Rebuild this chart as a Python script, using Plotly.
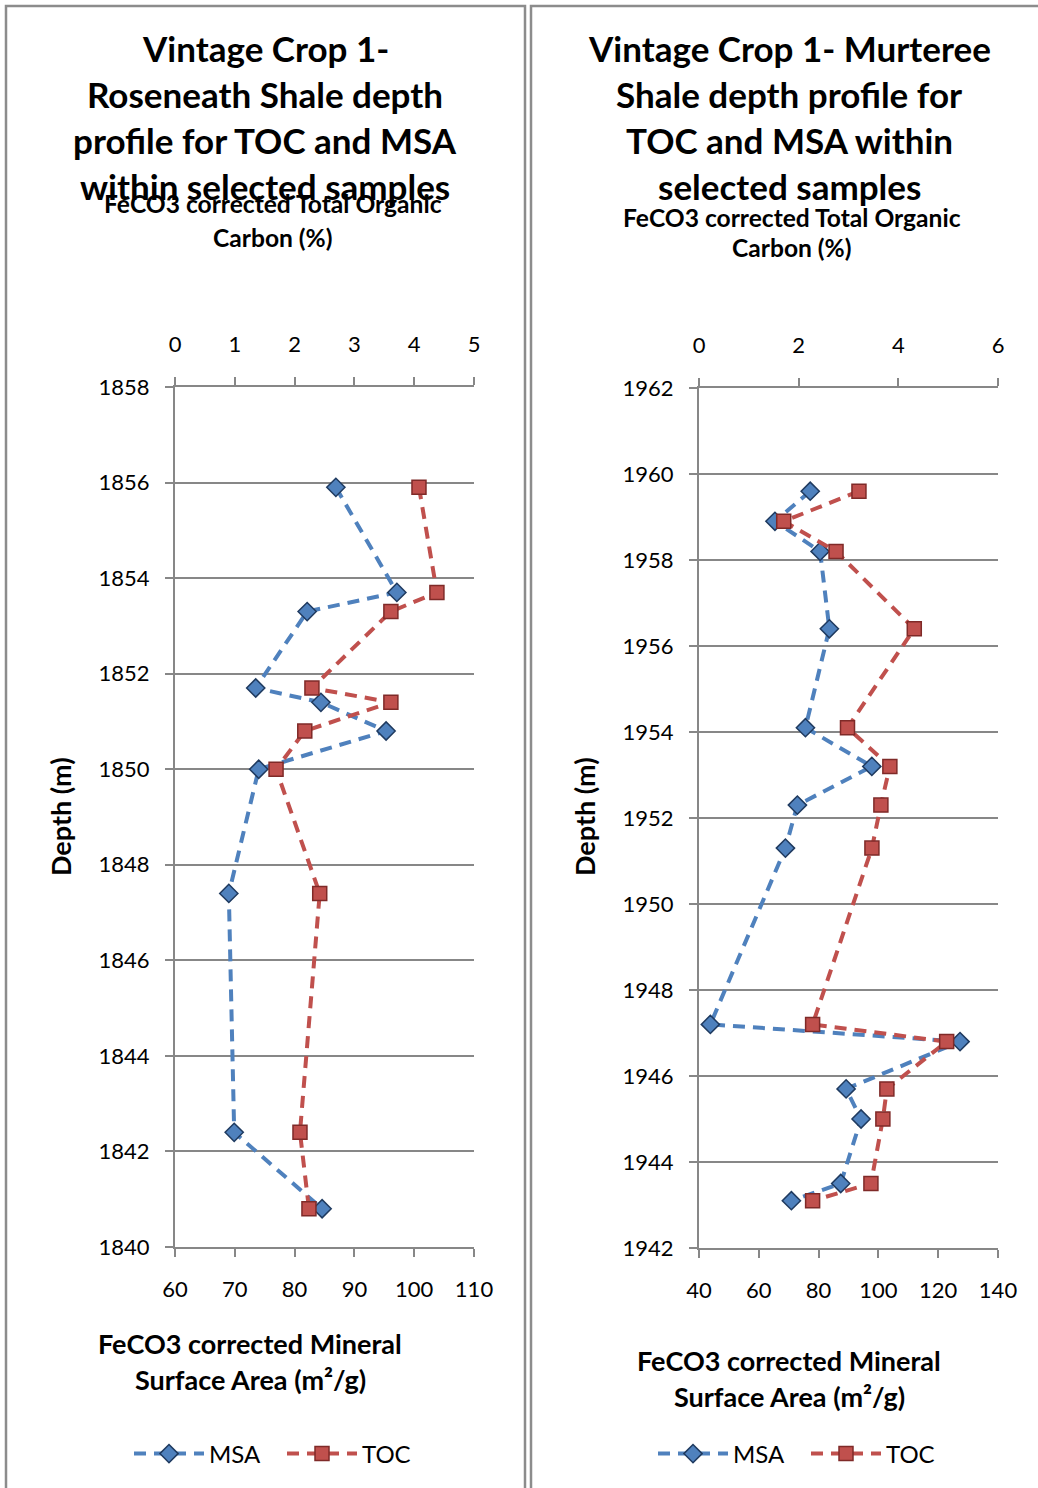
import plotly.graph_objects as go

# ---- Roseneath Shale (Vintage Crop 1) ----
ros_depth = [1855.9, 1853.7, 1853.3, 1851.7, 1851.4, 1850.8, 1850.0, 1847.4, 1842.4, 1840.8]
ros_msa = [86.9, 97.1, 82.1, 73.5, 84.4, 95.3, 74.0, 69.0, 69.9, 84.6]
ros_toc = [4.08, 4.38, 3.61, 2.29, 3.61, 2.17, 1.69, 2.42, 2.09, 2.24]

# ---- Murteree Shale (Vintage Crop 1) ----
mur_depth = [1959.6, 1958.9, 1958.2, 1956.4, 1954.1, 1953.2, 1952.3, 1951.3,
             1947.2, 1946.8, 1945.7, 1945.0, 1943.5, 1943.1]
mur_msa = [77.2, 65.4, 80.5, 83.6, 75.6, 97.8, 72.9, 68.9,
           43.8, 127.3, 89.2, 94.2, 87.4, 70.9]
mur_toc = [3.21, 1.70, 2.75, 4.32, 2.98, 3.83, 3.65, 3.47,
           2.28, 4.97, 3.77, 3.69, 3.45, 2.28]

title_left = ["Vintage Crop 1-", "Roseneath Shale depth",
              "profile for TOC and MSA", "within selected samples"]
title_right = ["Vintage Crop 1- Murteree", "Shale depth profile for",
               "TOC and MSA within", "selected samples"]
toc_title = ["FeCO3 corrected Total Organic", "Carbon (%)"]
msa_title = ["FeCO3 corrected Mineral", "Surface Area (m²/g)"]

W, H = 1038, 1488
FONT = "Lato"
GRID = "#878787"
BLUE, BLUE_EDGE = "#4F81BD", "#1F3A5F"
RED, RED_EDGE = "#C0504D", "#7F2A28"
DASH = "12px,8px"


def fx(p):
    return p / W


def fy(p):
    return 1 - p / H


fig = go.Figure()

def add_pair(depth, msa, toc, xa_msa, xa_toc, ya, legend):
    fig.add_trace(go.Scatter(
        x=msa, y=depth, xaxis=xa_msa, yaxis=ya, name="MSA", mode="lines+markers",
        line=dict(color=BLUE, width=4, dash=DASH),
        marker=dict(symbol="diamond", size=14, color=BLUE,
                    line=dict(color=BLUE_EDGE, width=1.5)),
        legend=legend))
    fig.add_trace(go.Scatter(
        x=toc, y=depth, xaxis=xa_toc, yaxis=ya, name="TOC", mode="lines+markers",
        line=dict(color=RED, width=4, dash=DASH),
        marker=dict(symbol="square", size=14, color=RED,
                    line=dict(color=RED_EDGE, width=1.5)),
        legend=legend))

add_pair(ros_depth, ros_msa, ros_toc, "x", "x2", "y", "legend")
add_pair(mur_depth, mur_msa, mur_toc, "x3", "x4", "y2", "legend2")

tickfont = dict(family=FONT, size=22, color="#000000")
common_x = dict(showline=True, linecolor=GRID, linewidth=2, ticks="outside",
                ticklen=8, tickwidth=2, tickcolor=GRID, showgrid=False,
                zeroline=False, tickfont=tickfont, ticklabelstandoff=14)
top_x = dict(common_x, ticklabelstandoff=16)
common_y = dict(showline=True, linecolor=GRID, linewidth=2, ticks="outside",
                ticklen=8, tickwidth=2, tickcolor=GRID, showgrid=True,
                gridcolor=GRID, gridwidth=2, zeroline=False, tickfont=tickfont,
                ticklabelstandoff=11)

left_dom = [fx(175), fx(474)]
right_dom = [fx(699), fx(998)]

legend_style = dict(orientation="h", xanchor="center", yanchor="middle",
                    font=dict(family=FONT, size=24), itemwidth=70,
                    entrywidth=68, bgcolor="rgba(0,0,0,0)", traceorder="normal")

fig.update_layout(
    width=W, height=H,
    margin=dict(l=0, r=0, t=0, b=0, autoexpand=False),
    paper_bgcolor="white", plot_bgcolor="white",
    font=dict(family=FONT, color="#000000"),
    xaxis=dict(common_x, domain=left_dom, anchor="y", range=[60, 110],
               dtick=10, tick0=60),
    xaxis2=dict(top_x, overlaying="x", side="top", anchor="y",
                range=[0, 5], dtick=1, tick0=0),
    yaxis=dict(common_y, domain=[fy(1247), fy(387)], anchor="x",
               range=[1840, 1858], dtick=2, tick0=1840),
    xaxis3=dict(common_x, domain=right_dom, anchor="y2", range=[40, 140],
                dtick=20, tick0=40),
    xaxis4=dict(top_x, overlaying="x3", side="top", anchor="y2",
                range=[0, 6], dtick=2, tick0=0),
    yaxis2=dict(common_y, domain=[fy(1248), fy(388)], anchor="x3",
                range=[1942, 1962], dtick=2, tick0=1942),
    legend=dict(legend_style, x=fx(282), y=fy(1454)),
    legend2=dict(legend_style, x=fx(806), y=fy(1454)),
    showlegend=True,
)

# chart borders
for x0, x1 in [(6, 525), (531, 1060)]:
    fig.add_shape(type="rect", xref="paper", yref="paper",
                  x0=fx(x0), x1=fx(x1), y0=fy(1520), y1=fy(6),
                  line=dict(color="#8C8C8C", width=2.5), fillcolor="rgba(0,0,0,0)",
                  layer="below")

def text_lines(lines, cx, ys, size, bold=True):
    for t, yy in zip(lines, ys):
        fig.add_annotation(text=t, x=fx(cx), y=fy(yy), xref="paper", yref="paper",
                           showarrow=False, xanchor="center", yanchor="middle",
                           font=dict(family=FONT, size=size, color="#000000",
                                     weight="bold" if bold else "normal"))

text_lines(title_left, 265, [48, 94, 140, 186], 35)
text_lines(title_right, 789, [48, 94, 140, 186], 35)
text_lines(toc_title, 273, [204, 237], 24.6)
text_lines(toc_title, 792, [217, 248], 24.6)
text_lines(msa_title, 250, [1343, 1379], 27)
text_lines(msa_title, 789, [1360, 1396], 27)

for cx in (60, 584):
    fig.add_annotation(text="Depth (m)", x=fx(cx), y=fy(817), xref="paper",
                       yref="paper", showarrow=False, textangle=-90,
                       xanchor="center", yanchor="middle",
                       font=dict(family=FONT, size=27, color="#000000",
                                 weight="bold"))

fig.write_html("out.html")
